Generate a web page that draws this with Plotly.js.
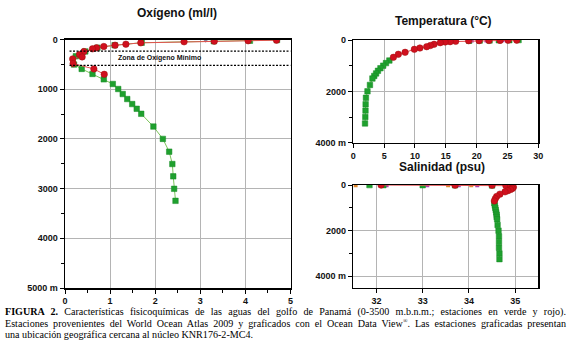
<!DOCTYPE html>
<html>
<head>
<meta charset="utf-8">
<script src="https://cdn.plot.ly/plotly-3.0.1.min.js"></script>
<style>
  body { margin: 0; background: #fff; }
  #wrap { position: relative; width: 570px; height: 350px; overflow: hidden; }
  #chart { position: absolute; left: 0; top: 0; width: 570px; height: 350px; }
  #caption { position: absolute; left: 5px; top: 306px; width: 561px;
    font-family: "Liberation Serif", "Times New Roman", serif; font-size: 10.1px; line-height: 11.6px; color: #000; }
  #caption div.j { text-align: justify; text-align-last: justify; white-space: nowrap; }
  #caption sup { font-size: 6px; line-height: 0; }
</style>
</head>
<body>
<div id="wrap">
  <div id="chart"></div>
  <div id="caption">
    <div class="j"><b>FIGURA 2.</b> Características fisicoquímicas de las aguas del golfo de Panamá (0-3500 m.b.n.m.; estaciones en verde y rojo).</div>
    <div class="j">Estaciones provenientes del World Ocean Atlas 2009 y graficados con el Ocean Data View<sup>®</sup>. Las estaciones graficadas presentan</div>
    <div>una ubicación geográfica cercana al núcleo KNR176-2-MC4.</div>
  </div>
</div>
<script>
// ---------- Oxygen (ml/l) ----------
const oxyGreenVal = [4.7, 4.1, 3.3, 1.7, 1.1, 0.72, 0.45, 0.24, 0.2, 0.37, 0.61, 0.86, 1.06, 1.18, 1.28, 1.38, 1.49, 1.59, 1.69, 1.96, 2.17, 2.31, 2.38, 2.40, 2.42, 2.45];
const oxyGreenDepth = [10, 25, 35, 65, 115, 165, 240, 337, 505, 592, 693, 802, 895, 996, 1097, 1198, 1299, 1394, 1495, 1752, 2000, 2257, 2505, 2754, 3004, 3246];
const oxyRedVal = [4.69, 4.06, 3.31, 2.64, 1.68, 1.35, 1.11, 0.86, 0.70, 0.61, 0.42, 0.32, 0.38, 0.17, 0.18, 0.64, 0.87];
const oxyRedDepth = [14, 26, 34, 46, 67, 95, 115, 141, 168, 188, 242, 303, 350, 390, 485, 592, 701];
const oxyOtherVal = [3.12];
const oxyOtherDepth = [25];
const omzDepths = [235, 520];
const omzLabel = "Zona de Oxígeno Mínimo";

// ---------- Temperature (°C) ----------
const tempGreenVal = [1.9, 1.95, 1.98, 2.0, 2.05, 2.3, 2.7, 3.1, 3.4, 3.7, 4.0, 4.4, 4.85, 5.3, 5.85];
const tempGreenDepth = [3250, 3000, 2750, 2500, 2250, 2000, 1750, 1500, 1400, 1300, 1200, 1100, 1000, 900, 800];
const tempGreenSurfVal = [18.8, 20.5, 22.1, 23.6, 25.3, 26.8];
const tempGreenSurfDepth = [30, 22, 16, 10, 6, 2];
const tempRedVal = [6.5, 7.3, 8.4, 9.9, 10.8, 11.9, 12.5, 13.1, 14.1, 14.9, 15.7, 16.6, 18.7, 20.4, 22.0, 23.8, 25.1, 26.5];
const tempRedDepth = [675, 557, 480, 363, 312, 260, 215, 168, 105, 78, 65, 52, 27, 25, 20, 15, 10, 5];
const tempOtherVal = [19.2, 21.6, 24.2];
const tempOtherDepth = [20, 15, 10];

// ---------- Salinity (psu) ----------
const salGreenVal = [34.66, 34.66, 34.65, 34.65, 34.65, 34.64, 34.62, 34.61, 34.60, 34.60, 34.59, 34.58, 34.57, 34.56, 34.55];
const salGreenDepth = [3250, 3000, 2750, 2500, 2250, 2000, 1750, 1500, 1400, 1300, 1200, 1100, 1000, 900, 800];
const salGreenSurfVal = [34.5, 33.7, 33.0, 32.15, 31.85];
const salGreenSurfDepth = [20, 15, 10, 8, 5];
const salRedVal = [34.55, 34.57, 34.60, 34.67, 34.78, 34.84, 34.90, 34.94, 34.96, 34.95, 34.90, 34.80, 34.5, 33.7, 32.1];
const salRedDepth = [700, 600, 500, 400, 300, 250, 200, 150, 100, 75, 50, 30, 15, 8, 2];
const salOrangeVal = [31.55, 33.55, 34.05];
const salOrangeDepth = [10, 10, 10];
const salPurpleVal = [32.22, 33.1, 33.78, 34.18];
const salPurpleDepth = [12, 12, 12, 12];

// ---------- Axis ticks ----------
const oxyDepthTicks = [0, 1000, 2000, 3000, 4000, 5000];
const oxyDepthLabels = ["0", "1000", "2000", "3000", "4000", "5000 m"];
const smallDepthTicks = [0, 2000, 4000];
const smallDepthLabels = ["0", "2000", "4000 m"];
const oxyTicks = [0, 1, 2, 3, 4, 5];
const tempTicks = [0, 5, 10, 15, 20, 25, 30];
const salTicks = [32, 33, 34, 35];

const titles = ["Oxígeno (ml/l)", "Temperatura (°C)", "Salinidad (psu)"];

const GREEN = '#1fa02e', GREEN_LINE = '#7cc45a';
const RED = '#d0101e', RED_LINE = '#e2504f';
const tickFont = {family: 'Liberation Sans, Arial, sans-serif', size: 9, color: '#111', weight: 'bold'};

function greenTrace(x, y, xa, ya, mode) {
  return {x, y, xaxis: xa, yaxis: ya, type: 'scatter', mode: mode || 'lines+markers',
    line: {color: GREEN_LINE, width: 1},
    marker: {symbol: 'square', size: 5.5, color: GREEN, line: {color: '#168a24', width: 0.5}},
    hoverinfo: 'skip', showlegend: false};
}
function redTrace(x, y, xa, ya) {
  return {x, y, xaxis: xa, yaxis: ya, type: 'scatter', mode: 'lines+markers',
    line: {color: RED_LINE, width: 1},
    marker: {symbol: 'circle', size: 6.5, color: RED, line: {color: '#a01010', width: 0.5}},
    hoverinfo: 'skip', showlegend: false};
}
function dotTrace(x, y, xa, ya, color, symbol) {
  return {x, y, xaxis: xa, yaxis: ya, type: 'scatter', mode: 'markers',
    marker: {symbol, size: 4, color},
    hoverinfo: 'skip', showlegend: false};
}

// sort helpers (lines connect in depth order)
function byDepth(v, d) {
  const idx = d.map((_, i) => i).sort((a, b) => d[a] - d[b]);
  return [idx.map(i => v[i]), idx.map(i => d[i])];
}
const [tgv, tgd] = byDepth(tempGreenVal, tempGreenDepth);
const [trv, trd] = byDepth(tempRedVal, tempRedDepth);
const [sgv, sgd] = byDepth(salGreenVal, salGreenDepth);
const [srv, srd] = byDepth(salRedVal, salRedDepth);

const data = [
  greenTrace(oxyGreenVal, oxyGreenDepth, 'x', 'y'),
  dotTrace(oxyOtherVal, oxyOtherDepth, 'x', 'y', '#8a7f9a', 'triangle-down'),
  redTrace(oxyRedVal, oxyRedDepth, 'x', 'y'),
  greenTrace(tgv, tgd, 'x2', 'y2'),
  greenTrace(tempGreenSurfVal, tempGreenSurfDepth, 'x2', 'y2', 'markers'),
  dotTrace(tempOtherVal, tempOtherDepth, 'x2', 'y2', '#b040b0', 'square'),
  redTrace(trv, trd, 'x2', 'y2'),
  dotTrace(salOrangeVal, salOrangeDepth, 'x3', 'y3', '#e08a30', 'square'),
  dotTrace(salPurpleVal, salPurpleDepth, 'x3', 'y3', '#b040b0', 'square'),
  greenTrace(salGreenSurfVal, salGreenSurfDepth, 'x3', 'y3', 'markers'),
  greenTrace(sgv, sgd, 'x3', 'y3'),
  redTrace(srv, srd, 'x3', 'y3')
];

const baseX = {showline: true, linecolor: '#000', linewidth: 1.5, mirror: true,
  showgrid: true, gridcolor: '#b4b4b4', gridwidth: 1, zeroline: false,
  ticks: 'outside', ticklen: 4, tickcolor: '#000', tickwidth: 1, tickfont: tickFont, fixedrange: true};
const baseY = Object.assign({}, baseX);

const layout = {
  width: 570, height: 350,
  margin: {l: 0, r: 0, t: 0, b: 0},
  paper_bgcolor: '#fff', plot_bgcolor: '#fff',
  showlegend: false,
  xaxis: Object.assign({}, baseX, {domain: [65/570, 290.5/570], anchor: 'y', range: [0, 5],
    tickmode: 'array', tickvals: oxyTicks, minor: {dtick: 0.5, ticks: 'outside', ticklen: 3, tickcolor: '#000', showgrid: false}}),
  yaxis: Object.assign({}, baseY, {domain: [1 - 288/350, 1 - 39.5/350], anchor: 'x', range: [5000, 0],
    tickmode: 'array', tickvals: oxyDepthTicks, ticktext: oxyDepthLabels,
    minor: {dtick: 500, ticks: 'outside', ticklen: 3, tickcolor: '#000', showgrid: false}}),
  xaxis2: Object.assign({}, baseX, {domain: [353.3/570, 538.3/570], anchor: 'y2', range: [0, 30],
    tickmode: 'array', tickvals: tempTicks}),
  yaxis2: Object.assign({}, baseY, {domain: [1 - 142.7/350, 1 - 40/350], anchor: 'x2', range: [4000, 0],
    tickmode: 'array', tickvals: smallDepthTicks, ticktext: smallDepthLabels,
    minor: {dtick: 1000, ticks: 'outside', ticklen: 3, tickcolor: '#000', showgrid: false}}),
  xaxis3: Object.assign({}, baseX, {domain: [353.3/570, 538.3/570], anchor: 'y3', range: [31.5, 35.5],
    tickmode: 'array', tickvals: salTicks}),
  yaxis3: Object.assign({}, baseY, {domain: [1 - 287.7/350, 1 - 185/350], anchor: 'x3', range: [4500, 0],
    tickmode: 'array', tickvals: smallDepthTicks, ticktext: smallDepthLabels,
    minor: {dtick: 1000, ticks: 'outside', ticklen: 3, tickcolor: '#000', showgrid: false}}),
  shapes: omzDepths.map(d => ({type: 'line', xref: 'x', yref: 'y', x0: 0.1, x1: 5, y0: d, y1: d,
    line: {color: '#000', width: 1.2, dash: '2px,1.5px'}})),
  annotations: [
    {text: titles[0], xref: 'paper', yref: 'paper', x: 177/570, y: 1 - 13/350, showarrow: false,
      xanchor: 'center', yanchor: 'middle', font: {family: 'Liberation Sans, Arial, sans-serif', size: 12, weight: 'bold', color: '#111'}},
    {text: titles[1], xref: 'paper', yref: 'paper', x: 443/570, y: 1 - 21/350, showarrow: false,
      xanchor: 'center', yanchor: 'middle', font: {family: 'Liberation Sans, Arial, sans-serif', size: 12, weight: 'bold', color: '#111'}},
    {text: titles[2], xref: 'paper', yref: 'paper', x: 442/570, y: 1 - 167/350, showarrow: false,
      xanchor: 'center', yanchor: 'middle', font: {family: 'Liberation Sans, Arial, sans-serif', size: 12, weight: 'bold', color: '#111'}},
    {text: omzLabel, xref: 'x', yref: 'y', x: 2.1, y: (omzDepths[0] + omzDepths[1]) / 2, showarrow: false,
      xanchor: 'center', yanchor: 'middle', font: {family: 'Liberation Sans, Arial, sans-serif', size: 7, weight: 'bold', color: '#111'}}
  ]
};

Plotly.newPlot('chart', data, layout, {staticPlot: true, displayModeBar: false});
</script>
</body>
</html>
